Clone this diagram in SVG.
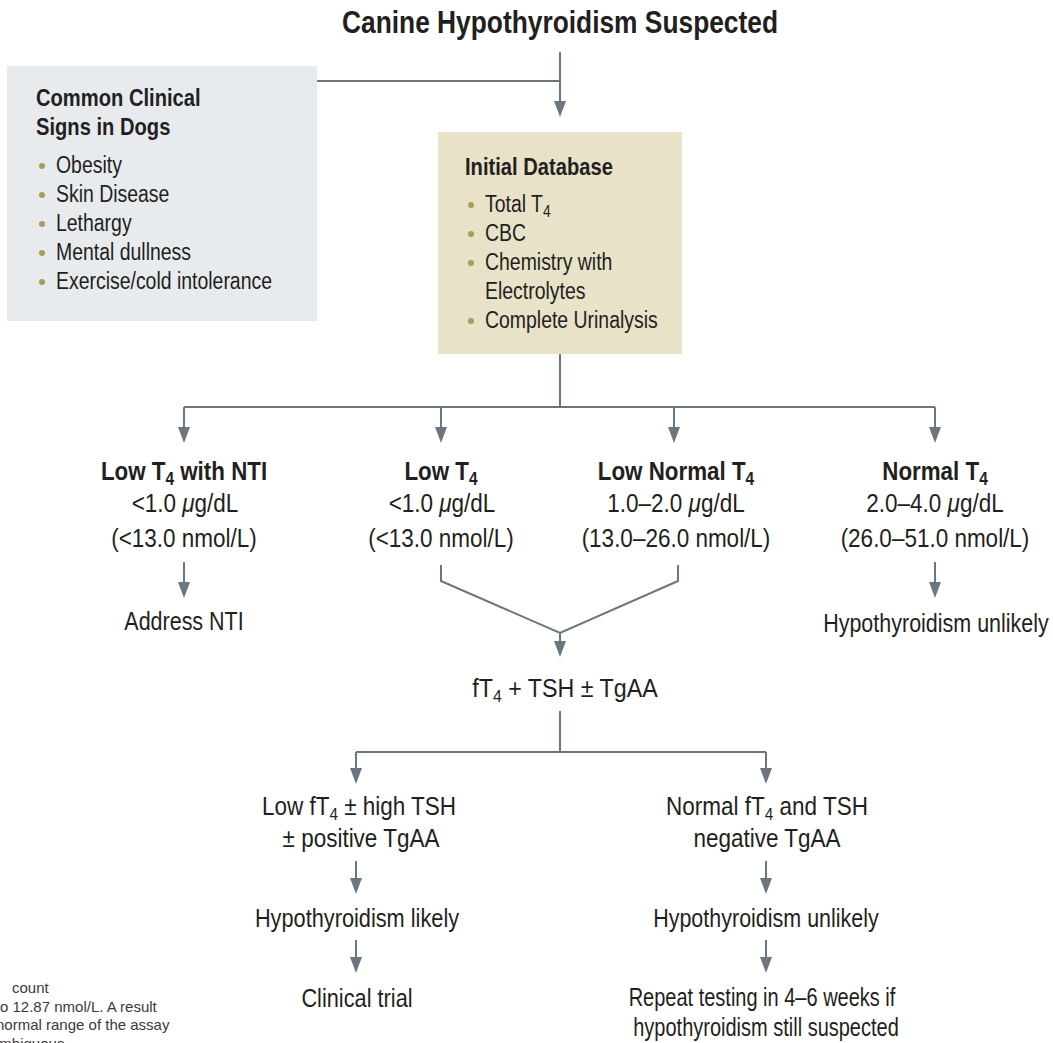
<svg xmlns="http://www.w3.org/2000/svg" width="1053" height="1043" viewBox="0 0 1053 1043">
<style>
text{font-family:'Liberation Sans',Arial,sans-serif;fill:#231f20;}
.t{font-size:31px;font-weight:bold;text-anchor:middle;}
.h{font-size:24px;font-weight:bold;}
.b{font-size:24px;}
.c{font-size:26px;font-weight:bold;text-anchor:middle;}
.v{font-size:25px;text-anchor:middle;}
.fn{font-size:15px;fill:#3a3a3a;}
.dot{fill:#a99b5b;}
.ln{fill:none;stroke:#6b767e;stroke-width:2;}
.mu{font-style:italic;}
</style>
<defs>
<marker id="ah" markerUnits="userSpaceOnUse" markerWidth="16" markerHeight="12" refX="0" refY="6" orient="auto" viewBox="0 0 16 12">
<path d="M0,0 L16,6 L0,12 z" fill="#6b767e"/>
</marker>
</defs>

<text class="t" transform="translate(560 33) scale(0.85 1)">Canine Hypothyroidism Suspected</text>

<g id="signs">
<rect x="7" y="66" width="310" height="255" fill="#e8ebee"/>
<text class="h" transform="translate(36 106) scale(0.84 1)">Common Clinical</text>
<text class="h" transform="translate(36 135) scale(0.84 1)">Signs in Dogs</text>
<circle class="dot" cx="42" cy="166" r="3"/><text class="b" transform="translate(56 173) scale(0.81 1)">Obesity</text>
<circle class="dot" cx="42" cy="195" r="3"/><text class="b" transform="translate(56 202) scale(0.81 1)">Skin Disease</text>
<circle class="dot" cx="42" cy="224" r="3"/><text class="b" transform="translate(56 231) scale(0.81 1)">Lethargy</text>
<circle class="dot" cx="42" cy="253" r="3"/><text class="b" transform="translate(56 260) scale(0.81 1)">Mental dullness</text>
<circle class="dot" cx="42" cy="282" r="3"/><text class="b" transform="translate(56 289) scale(0.81 1)">Exercise/cold intolerance</text>
</g>

<g id="database">
<rect x="438" y="132" width="244" height="222" fill="#e8e2c9"/>
<text class="h" transform="translate(465 175) scale(0.84 1)">Initial Database</text>
<circle class="dot" cx="471" cy="205" r="3"/><text class="b" transform="translate(485 212) scale(0.81 1)">Total T<tspan font-size="17" dy="5">4</tspan></text>
<circle class="dot" cx="471" cy="234" r="3"/><text class="b" transform="translate(485 241) scale(0.81 1)">CBC</text>
<circle class="dot" cx="471" cy="263" r="3"/><text class="b" transform="translate(485 270) scale(0.81 1)">Chemistry with</text>
<text class="b" transform="translate(485 299) scale(0.81 1)">Electrolytes</text>
<circle class="dot" cx="471" cy="321" r="3"/><text class="b" transform="translate(485 328) scale(0.81 1)">Complete Urinalysis</text>
</g>

<g id="lowntI">
<text class="c" transform="translate(184 480) scale(0.86 1)">Low T<tspan font-size="18" dy="5">4</tspan><tspan dy="-5"> with NTI</tspan></text>
<text class="v" transform="translate(185 512) scale(0.9 1)">&lt;1.0 <tspan class="mu">μ</tspan>g/dL</text>
<text class="v" transform="translate(184 547) scale(0.9 1)">(&lt;13.0 nmol/L)</text>
</g>
<g id="lowt4">
<text class="c" transform="translate(441 480) scale(0.86 1)">Low T<tspan font-size="18" dy="5">4</tspan></text>
<text class="v" transform="translate(442 512) scale(0.9 1)">&lt;1.0 <tspan class="mu">μ</tspan>g/dL</text>
<text class="v" transform="translate(441 547) scale(0.9 1)">(&lt;13.0 nmol/L)</text>
</g>
<g id="lownormal">
<text class="c" transform="translate(676 480) scale(0.86 1)">Low Normal T<tspan font-size="18" dy="5">4</tspan></text>
<text class="v" transform="translate(676 512) scale(0.9 1)">1.0–2.0 <tspan class="mu">μ</tspan>g/dL</text>
<text class="v" transform="translate(676 547) scale(0.9 1)">(13.0–26.0 nmol/L)</text>
</g>
<g id="normal">
<text class="c" transform="translate(935 480) scale(0.86 1)">Normal T<tspan font-size="18" dy="5">4</tspan></text>
<text class="v" transform="translate(935 512) scale(0.9 1)">2.0–4.0 <tspan class="mu">μ</tspan>g/dL</text>
<text class="v" transform="translate(935 547) scale(0.9 1)">(26.0–51.0 nmol/L)</text>
</g>
<g id="addressnti"><text class="v" transform="translate(184 630) scale(0.86 1)">Address NTI</text></g>
<g id="unlikely1"><text class="v" transform="translate(936 632) scale(0.86 1)">Hypothyroidism unlikely</text></g>
<g id="ft4tsh"><text class="v" transform="translate(565 697) scale(0.93 1)">fT<tspan font-size="17" dy="5">4</tspan><tspan dy="-5"> + TSH ± TgAA</tspan></text></g>
<g id="lowft4">
<text class="v" transform="translate(359 815) scale(0.9 1)">Low fT<tspan font-size="17" dy="5">4</tspan><tspan dy="-5"> ± high TSH</tspan></text>
<text class="v" transform="translate(361 847) scale(0.9 1)">± positive TgAA</text>
</g>
<g id="normalft4">
<text class="v" transform="translate(767 815) scale(0.9 1)">Normal fT<tspan font-size="17" dy="5">4</tspan><tspan dy="-5"> and TSH</tspan></text>
<text class="v" transform="translate(767 847) scale(0.9 1)">negative TgAA</text>
</g>
<g id="likely"><text class="v" transform="translate(357 927) scale(0.87 1)">Hypothyroidism likely</text></g>
<g id="unlikely2"><text class="v" transform="translate(766 927) scale(0.86 1)">Hypothyroidism unlikely</text></g>
<g id="trial"><text class="v" transform="translate(357 1007) scale(0.87 1)">Clinical trial</text></g>
<g id="repeat">
<text class="v" transform="translate(762 1006) scale(0.8 1)">Repeat testing in 4–6 weeks if</text>
<text class="v" transform="translate(766 1036) scale(0.8 1)">hypothyroidism still suspected</text>
</g>

<g id="footnote">
<text class="fn" x="12" y="993">count</text>
<text class="fn" x="0" y="1012">o 12.87 nmol/L. A result</text>
<text class="fn" x="-4" y="1030">normal range of the assay</text>
<text class="fn" x="-9" y="1049">ambiguous</text>
</g>

<g id="connectors">
<path class="ln" d="M560 52 V101" marker-end="url(#ah)"/>
<path class="ln" d="M317 81 H560"/>
<path class="ln" d="M560 354 V407 M184 407 H935"/>
<path class="ln" d="M184 407 V427" marker-end="url(#ah)"/>
<path class="ln" d="M441 407 V427" marker-end="url(#ah)"/>
<path class="ln" d="M674 407 V427" marker-end="url(#ah)"/>
<path class="ln" d="M935 407 V427" marker-end="url(#ah)"/>
<path class="ln" d="M184 562 V582" marker-end="url(#ah)"/>
<path class="ln" d="M935 562 V582" marker-end="url(#ah)"/>
<path class="ln" d="M441 565 V581 L560 633 L678 581 V565"/>
<path class="ln" d="M560 633 V641" marker-end="url(#ah)"/>
<path class="ln" d="M560 711 V752 M356 752 H766"/>
<path class="ln" d="M356 752 V768" marker-end="url(#ah)"/>
<path class="ln" d="M766 752 V768" marker-end="url(#ah)"/>
<path class="ln" d="M356 861 V878" marker-end="url(#ah)"/>
<path class="ln" d="M766 861 V878" marker-end="url(#ah)"/>
<path class="ln" d="M356 940 V957" marker-end="url(#ah)"/>
<path class="ln" d="M766 940 V957" marker-end="url(#ah)"/>
</g>
</svg>
